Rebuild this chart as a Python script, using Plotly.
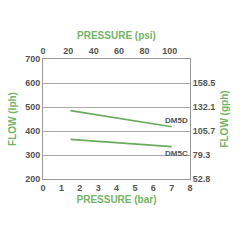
import plotly.graph_objects as go

bar = [1.5, 7.0]
dm5d_lph = [485, 418]
dm5c_lph = [365, 335]
psi_ticks = [0, 20, 40, 60, 80, 100]
bar_ticks = [0, 1, 2, 3, 4, 5, 6, 7, 8]
lph_ticks = [200, 300, 400, 500, 600, 700]
gph_labels = ["52.8", "79.3", "105.7", "132.1", "158.5"]
gph_vals = [52.8, 79.3, 105.7, 132.1, 158.5]

green = "#74b466"
line_green = "#6aab5d"
tickc = "#555555"
tf = dict(family="Liberation Sans, Arial", size=9, color=tickc, weight="bold")
titf = dict(family="Liberation Sans, Arial", size=10, color=green, weight="bold")

fig = go.Figure()
fig.add_trace(go.Scatter(x=bar, y=dm5d_lph, mode="lines", line=dict(color=line_green, width=1.6), showlegend=False))
fig.add_trace(go.Scatter(x=bar, y=dm5c_lph, mode="lines", line=dict(color=line_green, width=1.6), showlegend=False))
# invisible traces for secondary axes
fig.add_trace(go.Scatter(x=[0], y=[None], xaxis="x2", yaxis="y", showlegend=False, hoverinfo="skip"))
fig.add_trace(go.Scatter(x=[0], y=[None], xaxis="x", yaxis="y2", showlegend=False, hoverinfo="skip"))

fig.add_annotation(x=8, y=dm5d_lph[1], text="DM5D", showarrow=False, xanchor="right", yanchor="bottom",
                   font=dict(family="Liberation Sans, Arial", size=8, color=tickc, weight="bold"))
fig.add_annotation(x=8, y=dm5c_lph[1], text="DM5C", showarrow=False, xanchor="right", yanchor="top",
                   font=dict(family="Liberation Sans, Arial", size=8, color=tickc, weight="bold"))

fig.update_layout(
    width=240, height=240,
    margin=dict(l=37, r=46, t=59, b=61),
    plot_bgcolor="white", paper_bgcolor="white",
    xaxis=dict(range=[0, 8], tickvals=bar_ticks, tickfont=tf, showgrid=False, zeroline=False,
               showline=True, linecolor="#999999", linewidth=1, mirror=False, ticks="",
               title=dict(text="PRESSURE (bar)", font=titf, standoff=4)),
    xaxis2=dict(range=[0, 116], tickvals=psi_ticks, tickfont=tf, overlaying="x", side="top",
                showgrid=False, zeroline=False, showline=True, linecolor="#999999", linewidth=1, ticks="",
                title=dict(text="PRESSURE (psi)", font=titf, standoff=4)),
    yaxis=dict(range=[200, 700], tickvals=lph_ticks, tickfont=tf, showgrid=True, gridcolor="#aaaaaa",
               gridwidth=1, zeroline=False, showline=True, linecolor="#999999", linewidth=1, ticks="",
               title=dict(text="FLOW (lph)", font=titf, standoff=6)),
    yaxis2=dict(range=[52.79, 184.85], tickvals=gph_vals, ticktext=gph_labels, tickfont=tf,
                overlaying="y", side="right", showgrid=False, zeroline=False, showline=True,
                linecolor="#999999", linewidth=1, ticks="",
                title=dict(text="FLOW (gph)", font=titf, standoff=6)),
)

fig.write_html("out.html")
